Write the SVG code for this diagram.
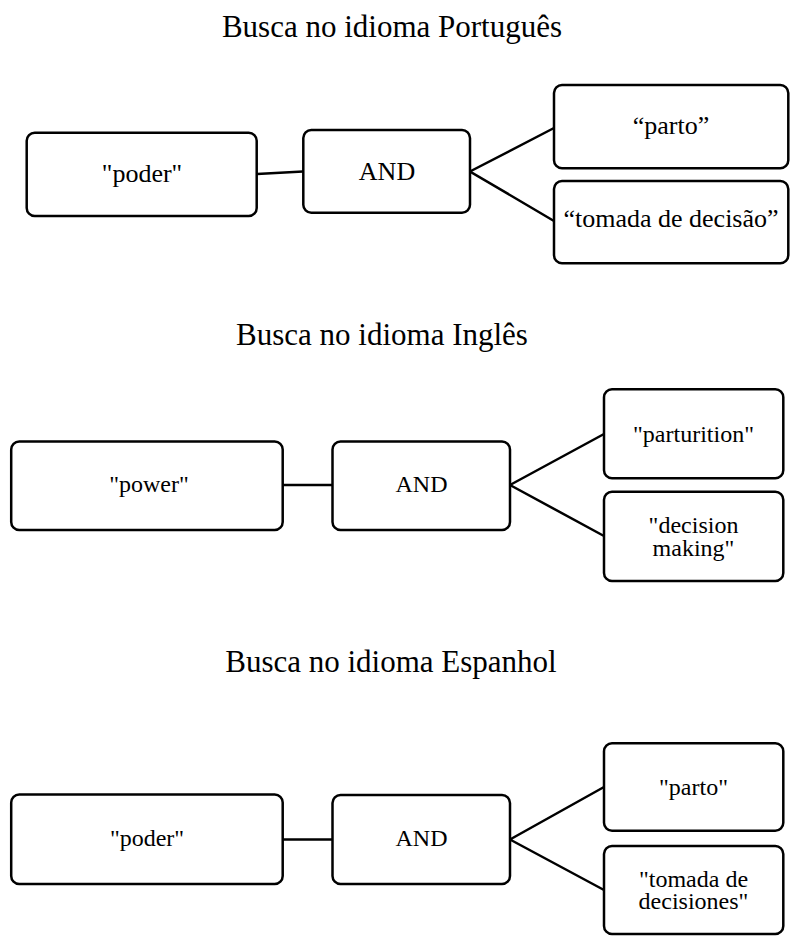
<svg xmlns="http://www.w3.org/2000/svg" width="795" height="945" viewBox="0 0 795 945" font-family="'Liberation Serif', 'Times New Roman', serif">
<style>
.box{fill:#fff;stroke:#000;stroke-width:2.5}
.ln{stroke:#000;stroke-width:2.5;fill:none}
.t{font-family:'Liberation Serif','Times New Roman',serif;fill:#000;text-anchor:middle;font-size:31px}
.a{font-family:'Liberation Serif','Times New Roman',serif;fill:#000;text-anchor:middle;font-size:26px}
.b{font-family:'Liberation Serif','Times New Roman',serif;fill:#000;text-anchor:middle;font-size:24px}
</style>
<rect width="795" height="945" fill="#fff"/>
<text class="t" x="392" y="37">Busca no idioma Português</text>
<text class="t" x="382" y="345">Busca no idioma Inglês</text>
<text class="t" x="391" y="672">Busca no idioma Espanhol</text>
<g id="connectors">
<line class="ln" x1="257" y1="174" x2="303" y2="171.5"/>
<polyline class="ln" points="554,128 470,171.5 554,221"/>
<line class="ln" x1="283" y1="485" x2="332.5" y2="485"/>
<polyline class="ln" points="604,434 510,485 604,536"/>
<line class="ln" x1="283" y1="839.5" x2="332.5" y2="839.5"/>
<polyline class="ln" points="604,787 510,839.5 604,890"/>
</g>
<g id="pt-poder"><rect class="box" x="26.7" y="132.7" width="230" height="83.3" rx="8"/><text class="a" x="142" y="182">"poder"</text></g>
<g id="pt-and"><rect class="box" x="303.3" y="130" width="166.7" height="82.7" rx="8"/><text class="a" x="387" y="180">AND</text></g>
<g id="pt-parto"><rect class="box" x="554" y="85" width="234.3" height="83.3" rx="8"/><text class="a" x="671" y="133.5">“parto”</text></g>
<g id="pt-tomada"><rect class="box" x="554" y="181" width="234.3" height="82.3" rx="8"/><text class="a" x="671" y="227">“tomada de decisão”</text></g>
<g id="en-power"><rect class="box" x="11.2" y="441.5" width="271.5" height="88.5" rx="8"/><text class="b" x="149" y="492">"power"</text></g>
<g id="en-and"><rect class="box" x="332.5" y="441.5" width="177.5" height="88.5" rx="8"/><text class="b" x="421.5" y="492">AND</text></g>
<g id="en-parturition"><rect class="box" x="604" y="389.3" width="179.3" height="89" rx="8"/><text class="b" x="693.5" y="442">"parturition"</text></g>
<g id="en-decision"><rect class="box" x="604" y="491.7" width="179.3" height="89.3" rx="8"/><text class="b" x="693.5" y="533"><tspan x="693.5">"decision</tspan><tspan x="693.5" dy="22.5">making"</tspan></text></g>
<g id="es-poder"><rect class="box" x="11.2" y="794.5" width="271.5" height="89.5" rx="8"/><text class="b" x="147" y="846">"poder"</text></g>
<g id="es-and"><rect class="box" x="332.5" y="795" width="177.5" height="89" rx="8"/><text class="b" x="421.5" y="846">AND</text></g>
<g id="es-parto"><rect class="box" x="604" y="743.3" width="179.3" height="87.4" rx="8"/><text class="b" x="693.5" y="795">"parto"</text></g>
<g id="es-tomada"><rect class="box" x="604" y="846" width="179.3" height="88" rx="8"/><text class="b" x="693.5" y="887"><tspan x="693.5">"tomada de</tspan><tspan x="693.5" dy="22">decisiones"</tspan></text></g>
</svg>
